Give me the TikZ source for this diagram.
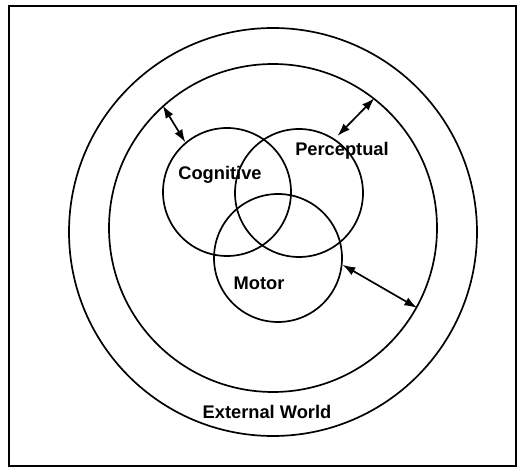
\documentclass[tikz,border=0pt]{standalone}
\usepackage{fontspec}
\setmainfont{Liberation Sans}
\usepackage{tikz}
\usetikzlibrary{arrows.meta,positioning}

\begin{document}
\begin{tikzpicture}[>={Latex[length=3.2mm,width=2.2mm]},line width=1.2pt,
  every node/.style={font=\fontsize{13}{15}\selectfont\bfseries},
  ring/.style={draw,circle,inner sep=0pt}]
\useasboundingbox (-6.825,5.8) rectangle (6.175,-5.9);
\draw[line width=1.4pt] (-6.6,5.64) rectangle (6.075,-5.85);
\node[ring,minimum size=10.2cm] (world) at (0,0) {};
\node[ring,minimum size=8.2cm] (inner) at (0,0.1) {};
\node[ring,minimum size=3.2cm] (cog) at (-1.15,1.0) {};
\node[ring,minimum size=3.2cm] (perc) at (0.65,0.975) {};
\node[ring,minimum size=3.2cm] (mot) at (0.125,-0.65) {};
\node (coglab) at (-1.325,1.425) {Cognitive};
\node (perclab) at (1.725,2.025) {Perceptual};
\node (motlab) at (-0.35,-1.275) {Motor};
\node (worldlab) at (-0.15,-4.5) {External World};
\draw[<->] (inner.132) -- (cog.130);
\draw[<->] (inner.52) -- ([shift={(56:0.1)}]perc.56);
\draw[<->] (mot.-6) -- (inner.-29);
\end{tikzpicture}
\end{document}
